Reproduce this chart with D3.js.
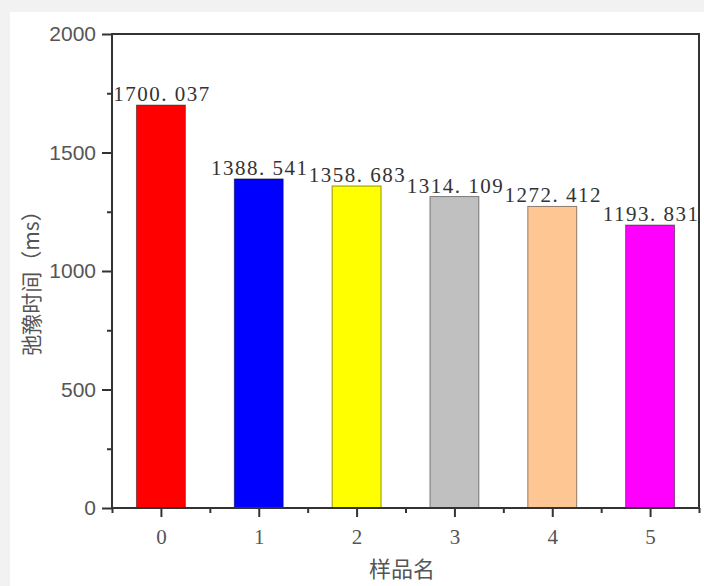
<!DOCTYPE html>
<html>
<head>
<meta charset="utf-8">
<script src="https://cdn.jsdelivr.net/npm/d3@7"></script>
<style>
	body { margin: 0; background: #f2f2f2; }
	svg { display: block; }
</style>
</head>
<body>
<div id="chart"></div>
<script>
// data
const categories = [0, 1, 2, 3, 4, 5]
const values = [1700.037, 1388.541, 1358.683, 1314.109, 1272.412, 1193.831]
const barColors = ['#ff0000', '#0000ff', '#ffff00', '#c0c0c0', '#fdc693', '#ff00ff']
const yTicks = [0, 500, 1000, 1500, 2000]
const yMinorTicks = [250, 750, 1250, 1750]
const xMinorTicks = [-0.5, 0.5, 1.5, 2.5, 3.5, 4.5, 5.5]
const xTitle = '样品名'
const yTitle = '弛豫时间（ms）'

const W = 704, H = 586
const margin = { top: 34, right: 5, bottom: 78, left: 112 }

const svg = d3.select('#chart').append('svg')
	.attr('width', W)
	.attr('height', H)

// white panel on the grey page
svg.append('rect')
	.attr('x', 10).attr('y', 12)
	.attr('width', W - 10).attr('height', H - 12)
	.attr('fill', '#fff')

const x = d3.scaleLinear().domain([-0.5, 5.5]).range([margin.left, W - margin.right])
const y = d3.scaleLinear().domain([0, 2000]).range([H - margin.bottom, margin.top])
const bw = x(0.25) - x(-0.25)

const g = svg.append('g')

// bars
g.selectAll('.bar')
	.data(values)
	.enter().append('rect')
	.attr('class', 'bar')
	.attr('x', (d, i) => x(categories[i]) - bw / 2)
	.attr('y', d => y(d))
	.attr('width', bw)
	.attr('height', d => y(0) - y(d))
	.attr('fill', (d, i) => barColors[i])
	.attr('stroke', 'rgba(0,0,0,0.45)')
	.attr('stroke-width', 1)

// value labels
g.selectAll('.label')
	.data(values)
	.enter().append('text')
	.attr('class', 'label')
	.attr('text-anchor', 'middle')
	.attr('x', (d, i) => x(categories[i]) + 1)
	.attr('y', d => y(d) - 4)
	.attr('font-family', 'Liberation Serif, serif')
	.attr('font-size', 21)
	.attr('letter-spacing', 1.5)
	.attr('fill', '#333')
	.text(d => d3.format('.3f')(d).replace('.', '. '))

// y axis
const yAxis = g.append('g')
	.attr('transform', 'translate(' + margin.left + ',0)')
	.call(d3.axisLeft(y).tickValues(yTicks).tickSize(10).tickPadding(6).tickFormat(d3.format('d')))
yAxis.select('.domain').remove()
yAxis.selectAll('line').attr('stroke', '#333').attr('stroke-width', 2)
yAxis.selectAll('text')
	.attr('font-family', 'Liberation Sans, Arial, sans-serif')
	.attr('font-size', 21)
	.attr('fill', '#555')

const yMinor = g.append('g')
	.attr('transform', 'translate(' + margin.left + ',0)')
	.call(d3.axisLeft(y).tickValues(yMinorTicks).tickSize(5).tickFormat(''))
yMinor.select('.domain').remove()
yMinor.selectAll('line').attr('stroke', '#333').attr('stroke-width', 2)

// x axis
const xAxis = g.append('g')
	.attr('transform', 'translate(0,' + y(0) + ')')
	.call(d3.axisBottom(x).tickValues(categories).tickSize(9).tickPadding(12).tickFormat(d3.format('d')))
xAxis.select('.domain').remove()
xAxis.selectAll('line').attr('stroke', '#333').attr('stroke-width', 2)
xAxis.selectAll('text')
	.attr('font-family', 'Liberation Serif, serif')
	.attr('font-size', 21)
	.attr('fill', '#555')

const xMinor = g.append('g')
	.attr('transform', 'translate(0,' + y(0) + ')')
	.call(d3.axisBottom(x).tickValues(xMinorTicks).tickSize(5).tickFormat(''))
xMinor.select('.domain').remove()
xMinor.selectAll('line').attr('stroke', '#333').attr('stroke-width', 2)

// frame
g.append('rect')
	.attr('x', x(-0.5))
	.attr('y', y(2000))
	.attr('width', x(5.5) - x(-0.5))
	.attr('height', y(0) - y(2000))
	.attr('fill', 'none')
	.attr('stroke', '#333')
	.attr('stroke-width', 2)

// titles
svg.append('text')
	.attr('x', 402)
	.attr('y', 577)
	.attr('text-anchor', 'middle')
	.attr('font-family', 'Noto Sans CJK SC, sans-serif')
	.attr('font-size', 22)
	.attr('fill', '#555')
	.text(xTitle)

svg.append('text')
	.attr('transform', 'translate(39,' + 278 + ') rotate(-90)')
	.attr('text-anchor', 'middle')
	.attr('font-family', 'Noto Sans CJK SC, sans-serif')
	.attr('font-size', 21)
	.attr('fill', '#555')
	.text(yTitle)
</script>
</body>
</html>
